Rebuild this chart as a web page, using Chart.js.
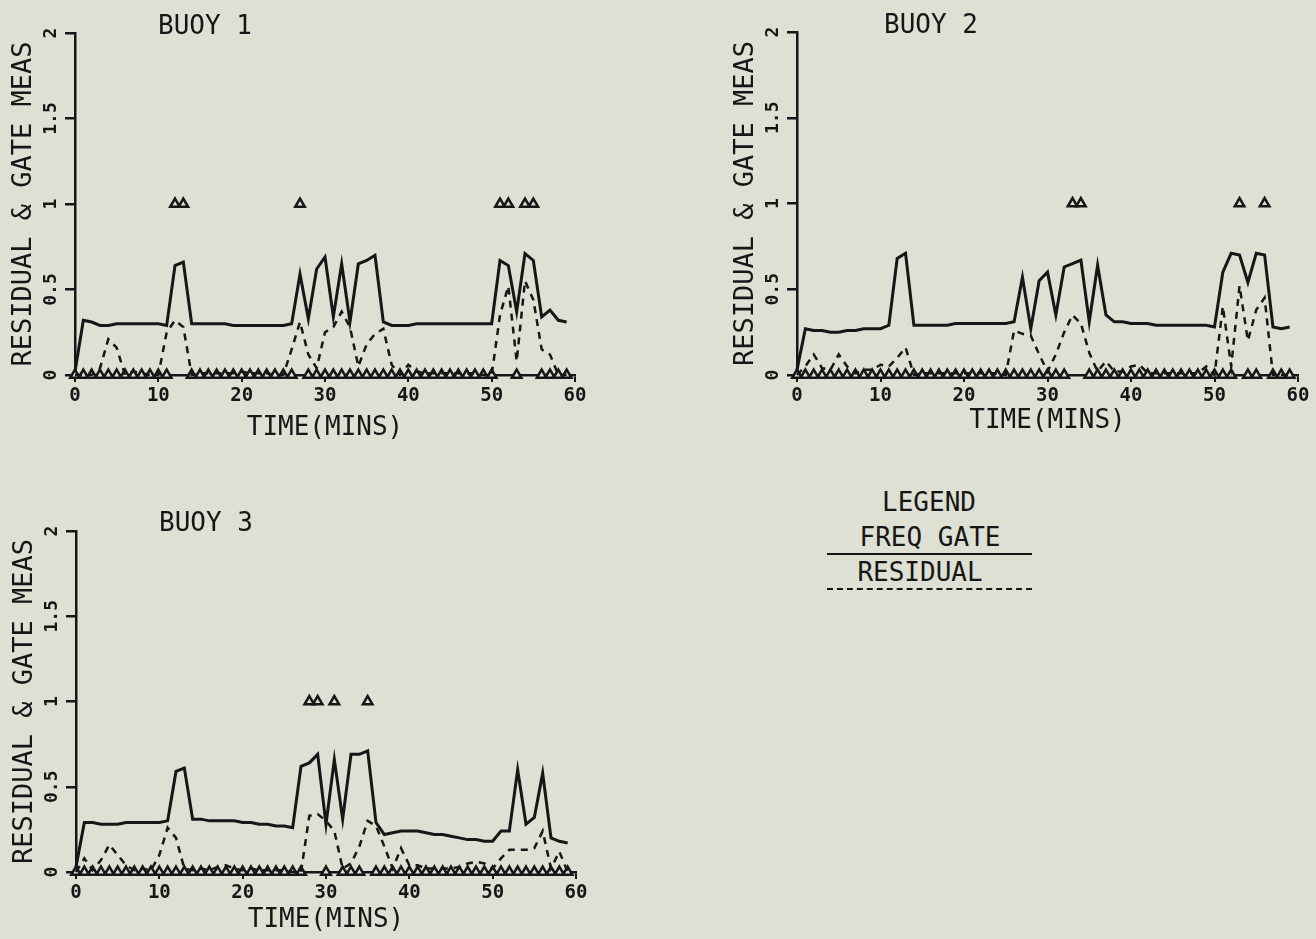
<!DOCTYPE html>
<html>
<head>
<meta charset="utf-8">
<title>Buoy residual &amp; gate measurements</title>
<script src="https://cdn.jsdelivr.net/npm/chart.js@4.4.1/dist/chart.umd.min.js"></script>
<style>
  html, body { margin: 0; padding: 0; background: #dde0d2; overflow: hidden; }
  body { width: 1316px; height: 939px; position: relative; font-family: "DejaVu Sans Mono", monospace; color: #161616; }
  canvas { position: absolute; }
  .lbl { position: absolute; transform: translate(-50%, -50%); font-size: 26px; line-height: 1; white-space: nowrap; }
  .rule { position: absolute; left: 827px; width: 205px; height: 0; }
</style>
</head>
<body>

<canvas id="buoy1" width="600" height="455" style="left:0px;top:0px"></canvas>
<canvas id="buoy2" width="594" height="455" style="left:722px;top:0px"></canvas>
<canvas id="buoy3" width="599" height="441" style="left:1px;top:498px"></canvas>

<div class="lbl" style="left:205px;top:25px">BUOY 1</div>
<div class="lbl" style="left:931px;top:24px">BUOY 2</div>
<div class="lbl" style="left:206px;top:522px">BUOY 3</div>

<!-- legend -->
<div class="lbl" style="left:929px;top:502px">LEGEND</div>
<div class="lbl" style="left:930px;top:537px">FREQ GATE</div>
<div class="rule" style="top:553px;border-top:2.5px solid #161616"></div>
<div class="lbl" style="left:920px;top:572px">RESIDUAL</div>
<div class="rule" style="top:588px;border-top:2.5px dashed #161616"></div>

<script>
const ink = '#161616';
const paper = '#dde0d2';

const minutes = [0,1,2,3,4,5,6,7,8,9,10,11,12,13,14,15,16,17,18,19,
  20,21,22,23,24,25,26,27,28,29,30,31,32,33,34,35,36,37,38,39,
  40,41,42,43,44,45,46,47,48,49,50,51,52,53,54,55,56,57,58,59];

const xTicks = [0, 10, 20, 30, 40, 50, 60];
const yTicks = [0, 0.5, 1, 1.5, 2];

// buoy 1
const gate1 = [0.02,0.32,0.31,0.29,0.29,0.30,0.30,0.30,0.30,0.30,
  0.30,0.29,0.64,0.66,0.30,0.30,0.30,0.30,0.30,0.29,
  0.29,0.29,0.29,0.29,0.29,0.29,0.30,0.59,0.33,0.62,
  0.69,0.34,0.65,0.31,0.65,0.67,0.70,0.31,0.29,0.29,
  0.29,0.30,0.30,0.30,0.30,0.30,0.30,0.30,0.30,0.30,
  0.30,0.67,0.64,0.37,0.71,0.67,0.34,0.38,0.32,0.31];
const resid1 = [0.00,0.00,0.00,0.04,0.21,0.16,0.00,0.02,0.01,0.00,
  0.00,0.25,0.32,0.28,0.00,0.01,0.01,0.01,0.01,0.01,
  0.02,0.01,0.01,0.01,0.00,0.00,0.15,0.31,0.12,0.04,
  0.25,0.28,0.37,0.28,0.05,0.18,0.24,0.27,0.06,0.00,
  0.06,0.02,0.01,0.01,0.01,0.01,0.01,0.01,0.01,0.00,
  0.00,0.35,0.52,0.08,0.55,0.44,0.15,0.12,0.00,0.00];
const meas1 = [0,0,0,0,0,0,0,0,0,0, 0,0,1,1,0,0,0,0,0,0,
  0,0,0,0,0,0,0,1,0,0, 0,0,0,0,0,0,0,0,0,0,
  0,0,0,0,0,0,0,0,0,0, 0,1,1,0,1,1,0,0,0,0];

// buoy 2
const gate2 = [0.03,0.27,0.26,0.26,0.25,0.25,0.26,0.26,0.27,0.27,
  0.27,0.29,0.68,0.71,0.29,0.29,0.29,0.29,0.29,0.30,
  0.30,0.30,0.30,0.30,0.30,0.30,0.31,0.57,0.27,0.55,
  0.60,0.35,0.63,0.65,0.67,0.31,0.64,0.35,0.31,0.31,
  0.30,0.30,0.30,0.29,0.29,0.29,0.29,0.29,0.29,0.29,
  0.28,0.60,0.71,0.70,0.54,0.71,0.70,0.28,0.27,0.28];
const resid2 = [0.00,0.05,0.12,0.04,0.03,0.12,0.05,0.01,0.03,0.03,
  0.06,0.05,0.10,0.16,0.00,0.01,0.01,0.01,0.01,0.01,
  0.01,0.01,0.01,0.01,0.01,0.00,0.26,0.24,0.23,0.12,
  0.02,0.12,0.25,0.35,0.30,0.13,0.02,0.08,0.02,0.02,
  0.05,0.06,0.01,0.01,0.01,0.01,0.01,0.01,0.01,0.05,
  0.00,0.40,0.05,0.52,0.20,0.38,0.45,0.00,0.00,0.00];
const meas2 = [0,0,0,0,0,0,0,0,0,0, 0,0,0,0,0,0,0,0,0,0,
  0,0,0,0,0,0,0,0,0,0, 0,0,0,1,1,0,0,0,0,0,
  0,0,0,0,0,0,0,0,0,0, 0,0,0,1,0,0,1,0,0,0];

// buoy 3
const gate3 = [0.03,0.29,0.29,0.28,0.28,0.28,0.29,0.29,0.29,0.29,
  0.29,0.30,0.59,0.61,0.31,0.31,0.30,0.30,0.30,0.30,
  0.29,0.29,0.28,0.28,0.27,0.27,0.26,0.62,0.64,0.69,
  0.28,0.66,0.31,0.69,0.69,0.71,0.29,0.22,0.23,0.24,
  0.24,0.24,0.23,0.22,0.22,0.21,0.20,0.19,0.19,0.18,
  0.18,0.24,0.24,0.60,0.28,0.32,0.58,0.20,0.18,0.17];
const resid3 = [0.00,0.08,0.01,0.07,0.16,0.10,0.04,0.01,0.02,0.01,
  0.10,0.26,0.20,0.02,0.01,0.02,0.01,0.03,0.04,0.02,
  0.01,0.02,0.01,0.01,0.01,0.01,0.00,0.00,0.33,0.34,
  0.30,0.24,0.02,0.05,0.15,0.30,0.27,0.15,0.02,0.14,
  0.04,0.04,0.02,0.02,0.02,0.02,0.03,0.05,0.06,0.05,
  0.02,0.08,0.13,0.13,0.13,0.14,0.24,0.02,0.12,0.00];
const meas3 = [0,0,0,0,0,0,0,0,0,0, 0,0,0,0,0,0,0,0,0,0,
  0,0,0,0,0,0,0,0,1,1, 0,1,0,0,0,1,0,0,0,0,
  0,0,0,0,0,0,0,0,0,0, 0,0,0,0,0,0,0,0,0,0];

Chart.defaults.font.family = '"DejaVu Sans Mono", monospace';
Chart.defaults.color = ink;

// y tick labels are written sideways like the plotter did
const sideLabels = {
  id: 'sideLabels',
  afterDraw(chart) {
    const s = chart.scales.y;
    const ctx = chart.ctx;
    ctx.save();
    ctx.font = 'bold 18px "DejaVu Sans Mono", monospace';
    ctx.fillStyle = ink;
    ctx.textAlign = 'center';
    ctx.textBaseline = 'middle';
    s.ticks.forEach(t => {
      ctx.save();
      ctx.translate(s.right - 24, s.getPixelForValue(t.value));
      ctx.rotate(-Math.PI / 2);
      ctx.fillText(String(t.value), 0, 0);
      ctx.restore();
    });
    ctx.restore();
  }
};

function buoyChart(id, gate, resid, meas, pad, xHeight, xTitlePad) {
  return new Chart(document.getElementById(id), {
    type: 'line',
    data: {
      labels: minutes,
      datasets: [
        { label: 'FREQ GATE', data: gate, borderColor: ink, borderWidth: 3,
          pointRadius: 0, clip: false },
        { label: 'RESIDUAL', data: resid, borderColor: ink, borderWidth: 2.5,
          borderDash: [7, 6], pointRadius: 0, clip: false },
        { label: 'GATE MEAS', data: meas, showLine: false, pointStyle: 'triangle',
          pointRadius: 5.5, pointBorderWidth: 2.5, pointBorderColor: ink,
          pointBackgroundColor: paper, clip: false }
      ]
    },
    options: {
      responsive: false,
      animation: false,
      layout: { padding: pad },
      plugins: { legend: { display: false }, tooltip: { enabled: false } },
      scales: {
        x: {
          type: 'linear', min: xTicks[0], max: xTicks[xTicks.length - 1],
          afterBuildTicks: s => { s.ticks = xTicks.map(v => ({ value: v })); },
          ticks: { color: ink, font: { size: 19, weight: 'bold' }, padding: 3, maxRotation: 0,
                   callback: v => String(v) },
          grid: { drawOnChartArea: false, color: ink, lineWidth: 2, tickLength: 7 },
          border: { color: ink, width: 2.5 },
          title: { display: true, text: 'TIME(MINS)', color: ink,
                   font: { size: 26, lineHeight: 1 }, padding: { top: 0, bottom: xTitlePad } },
          afterFit: s => { s.height = xHeight; }
        },
        y: {
          min: yTicks[0], max: yTicks[yTicks.length - 1],
          afterBuildTicks: s => { s.ticks = yTicks.map(v => ({ value: v })); },
          ticks: { color: 'transparent', font: { size: 18 } },
          grid: { drawOnChartArea: false, color: ink, lineWidth: 2.5, tickLength: 10 },
          border: { color: ink, width: 2.5 },
          title: { display: true, text: 'RESIDUAL & GATE MEAS', color: ink,
                   font: { size: 27, lineHeight: 1 }, padding: { top: 10, bottom: 0 } },
          afterFit: s => { s.width = 75; }
        }
      }
    },
    plugins: [sideLabels]
  });
}

buoyChart('buoy1', gate1, resid1, meas1, { top: 33, right: 25, left: 0, bottom: 0 }, 80, 14);
buoyChart('buoy2', gate2, resid2, meas2, { top: 32, right: 18, left: 0, bottom: 0 }, 80, 21);
buoyChart('buoy3', gate3, resid3, meas3, { top: 33, right: 24, left: 0, bottom: 0 }, 67, 6);
</script>
</body>
</html>
